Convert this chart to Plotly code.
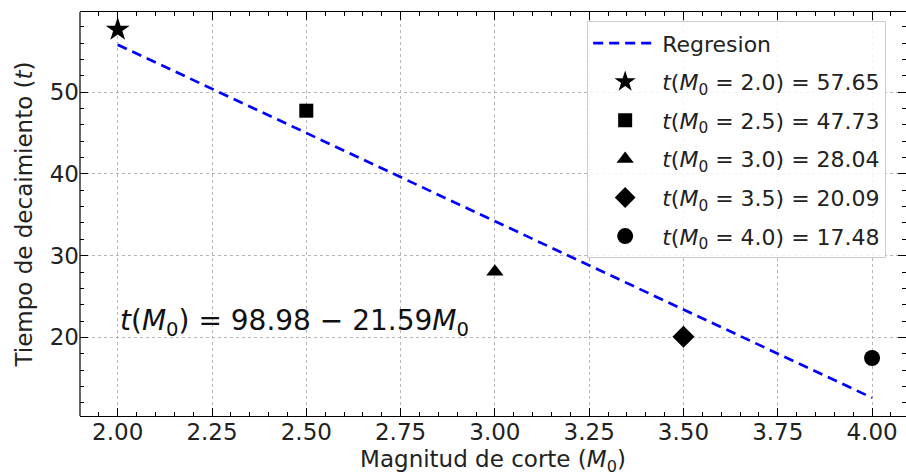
import plotly.graph_objects as go

# Data
m0_values = [2.0, 2.5, 3.0, 3.5, 4.0]
t_values = [57.65, 47.73, 28.04, 20.09, 17.48]
symbols = ["star", "square", "triangle-up", "diamond", "circle"]
marker_sizes = [18, 14, 15, 17, 16]
reg_intercept = 98.98
reg_slope = -21.59
reg_x = [2.0, 4.0]
reg_y = [reg_intercept + reg_slope * x for x in reg_x]

FONT = "DejaVu Sans"
fig = go.Figure()

fig.add_trace(go.Scatter(
    x=reg_x, y=reg_y, mode="lines", name="Regresion",
    line=dict(color="#0000ff", width=2.7, dash="10px,6px"),
    legendgroup="reg",
))

for m, t, s, sz in zip(m0_values, t_values, symbols, marker_sizes):
    fig.add_trace(go.Scatter(
        x=[m], y=[t], mode="markers",
        name=f"<i>t</i>(<i>M</i><sub>0</sub> = {m:.1f}) = {t:.2f}",
        marker=dict(symbol=s, size=sz, color="black", line=dict(width=0)),
        legendgroup=f"g{m}",
    ))

axis_common = dict(
    ticks="inside", ticklen=8, tickwidth=1, tickcolor="black",
    showgrid=True, gridcolor="#b5b5b5", griddash="dot", gridwidth=0.8,
    zeroline=False, tickfont=dict(family=FONT, size=23, color="#222"),
    mirror="ticks", automargin=False,
)

fig.update_xaxes(
    range=[1.9, 4.09], tick0=2.0, dtick=0.25, tickformat=".2f",
    minor=dict(ticks="inside", ticklen=4, dtick=0.05, tick0=2.0, tickcolor="black", showgrid=False),
    showline=True, linecolor="black", linewidth=1.2,
    ticklabelstandoff=-5,
    title=dict(text="Magnitud de corte (<i>M</i><sub>0</sub>)", font=dict(family=FONT, size=23, color="#222"), standoff=20),
    **axis_common,
)
fig.update_yaxes(
    range=[10.39, 59.8], tick0=0, dtick=10,
    minor=dict(ticks="inside", ticklen=4, dtick=2, tick0=0, tickcolor="black", showgrid=False),
    showline=False,
    title=dict(text="Tiempo de decaimiento (<i>t</i>)", font=dict(family=FONT, size=23, color="#222"), standoff=10),
    **axis_common,
)

# left spine (right spine lies outside the visible figure)
fig.add_shape(type="line", xref="x domain", yref="y domain", x0=0, x1=0, y0=0, y1=1,
              line=dict(color="black", width=1.2))

fig.add_annotation(
    x=2.0, y=21.8, xref="x", yref="y", xanchor="left", yanchor="middle",
    text=f"<i>t</i>(<i>M</i><sub>0</sub>) = {reg_intercept:.2f} − {abs(reg_slope):.2f}<i>M</i><sub>0</sub>",
    showarrow=False, font=dict(family=FONT, size=28, color="#111"),
)

fig.update_layout(
    width=906, height=476,
    margin=dict(l=80, r=0, t=12, b=60),
    plot_bgcolor="white", paper_bgcolor="white",
    font=dict(family=FONT, color="#222"),
    legend=dict(
        x=0.614, y=0.977, xanchor="left", yanchor="top",
        bgcolor="rgba(255,255,255,0.85)", bordercolor="#cccccc", borderwidth=1,
        font=dict(family=FONT, size=22, color="#222"),
        tracegroupgap=7, itemwidth=64,
    ),
)

fig.write_html("out.html")
